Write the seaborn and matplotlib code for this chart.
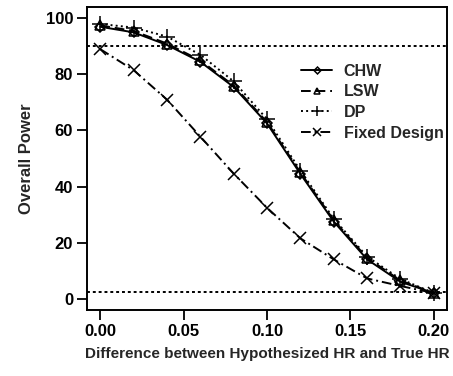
import numpy as np
import pandas as pd
import matplotlib
matplotlib.use('Agg')
import matplotlib.pyplot as plt
import seaborn as sns

# data
diff = [0.00, 0.02, 0.04, 0.06, 0.08, 0.10, 0.12, 0.14, 0.16, 0.18, 0.20]
chw = [97.0, 95.0, 90.5, 84.5, 75.5, 62.5, 44.5, 27.5, 14.0, 6.0, 2.0]
lsw = [97.5, 95.5, 91.0, 85.0, 76.0, 63.0, 45.0, 28.0, 14.5, 6.5, 2.0]
dp = [98.0, 96.7, 93.5, 87.0, 77.5, 64.0, 45.7, 28.5, 15.0, 7.0, 2.0]
fixed = [89.0, 81.5, 71.0, 57.8, 44.6, 32.4, 21.5, 14.0, 7.2, 4.5, 2.0]
ref_lines = [90, 2.5]

sns.set_style('ticks')
plt.rcParams['font.family'] = ['Liberation Sans', 'DejaVu Sans']

fig = plt.figure(figsize=(4.53, 3.76), dpi=100)
ax = fig.add_axes([0.192, 0.176, 0.795, 0.805])

series = [
    ('CHW', chw, 'D', '-', 5),
    ('LSW', lsw, '^', (0, (5, 2.5)), 7),
    ('DP', dp, '+', ':', 11),
    ('Fixed Design', fixed, 'x', (0, (5, 2, 1, 2)), 9),
]
for name, vals, mk, ls, ms in series:
    sns.lineplot(x=diff, y=vals, ax=ax, color='black', marker=mk, linestyle=ls,
                 markersize=ms, markerfacecolor='none', markeredgecolor='black',
                 markeredgewidth=1.1, linewidth=1.4, label=name)

for r in ref_lines:
    ax.axhline(r, color='black', linestyle=(0, (1.5, 1.5)), linewidth=1.4)

ax.set_xlim(-0.008, 0.208)
ax.set_ylim(-4, 104)
ax.set_xticks([0.00, 0.05, 0.10, 0.15, 0.20])
ax.set_xticklabels(['0.00', '0.05', '0.10', '0.15', '0.20'])
ax.set_yticks([0, 20, 40, 60, 80, 100])
for s in ax.spines.values():
    s.set_linewidth(1.4)
    s.set_color('black')
ax.tick_params(axis='both', length=7, width=1.3, labelsize=12, pad=3, colors='black')
for t in ax.get_xticklabels() + ax.get_yticklabels():
    t.set_fontweight('bold')
ax.set_xlabel('Difference between Hypothesized HR and True HR', fontsize=11,
              fontweight='bold', labelpad=6)
ax.set_ylabel('Overall Power', fontsize=12, fontweight='bold', labelpad=8)

leg = ax.legend(loc='upper right', bbox_to_anchor=(1.03, 0.86), frameon=False,
                prop={'size': 11.5, 'weight': 'bold'}, handlelength=2.0,
                handletextpad=0.7, labelspacing=0.35, markerscale=0.7)

fig.savefig('out.png', dpi=100)
